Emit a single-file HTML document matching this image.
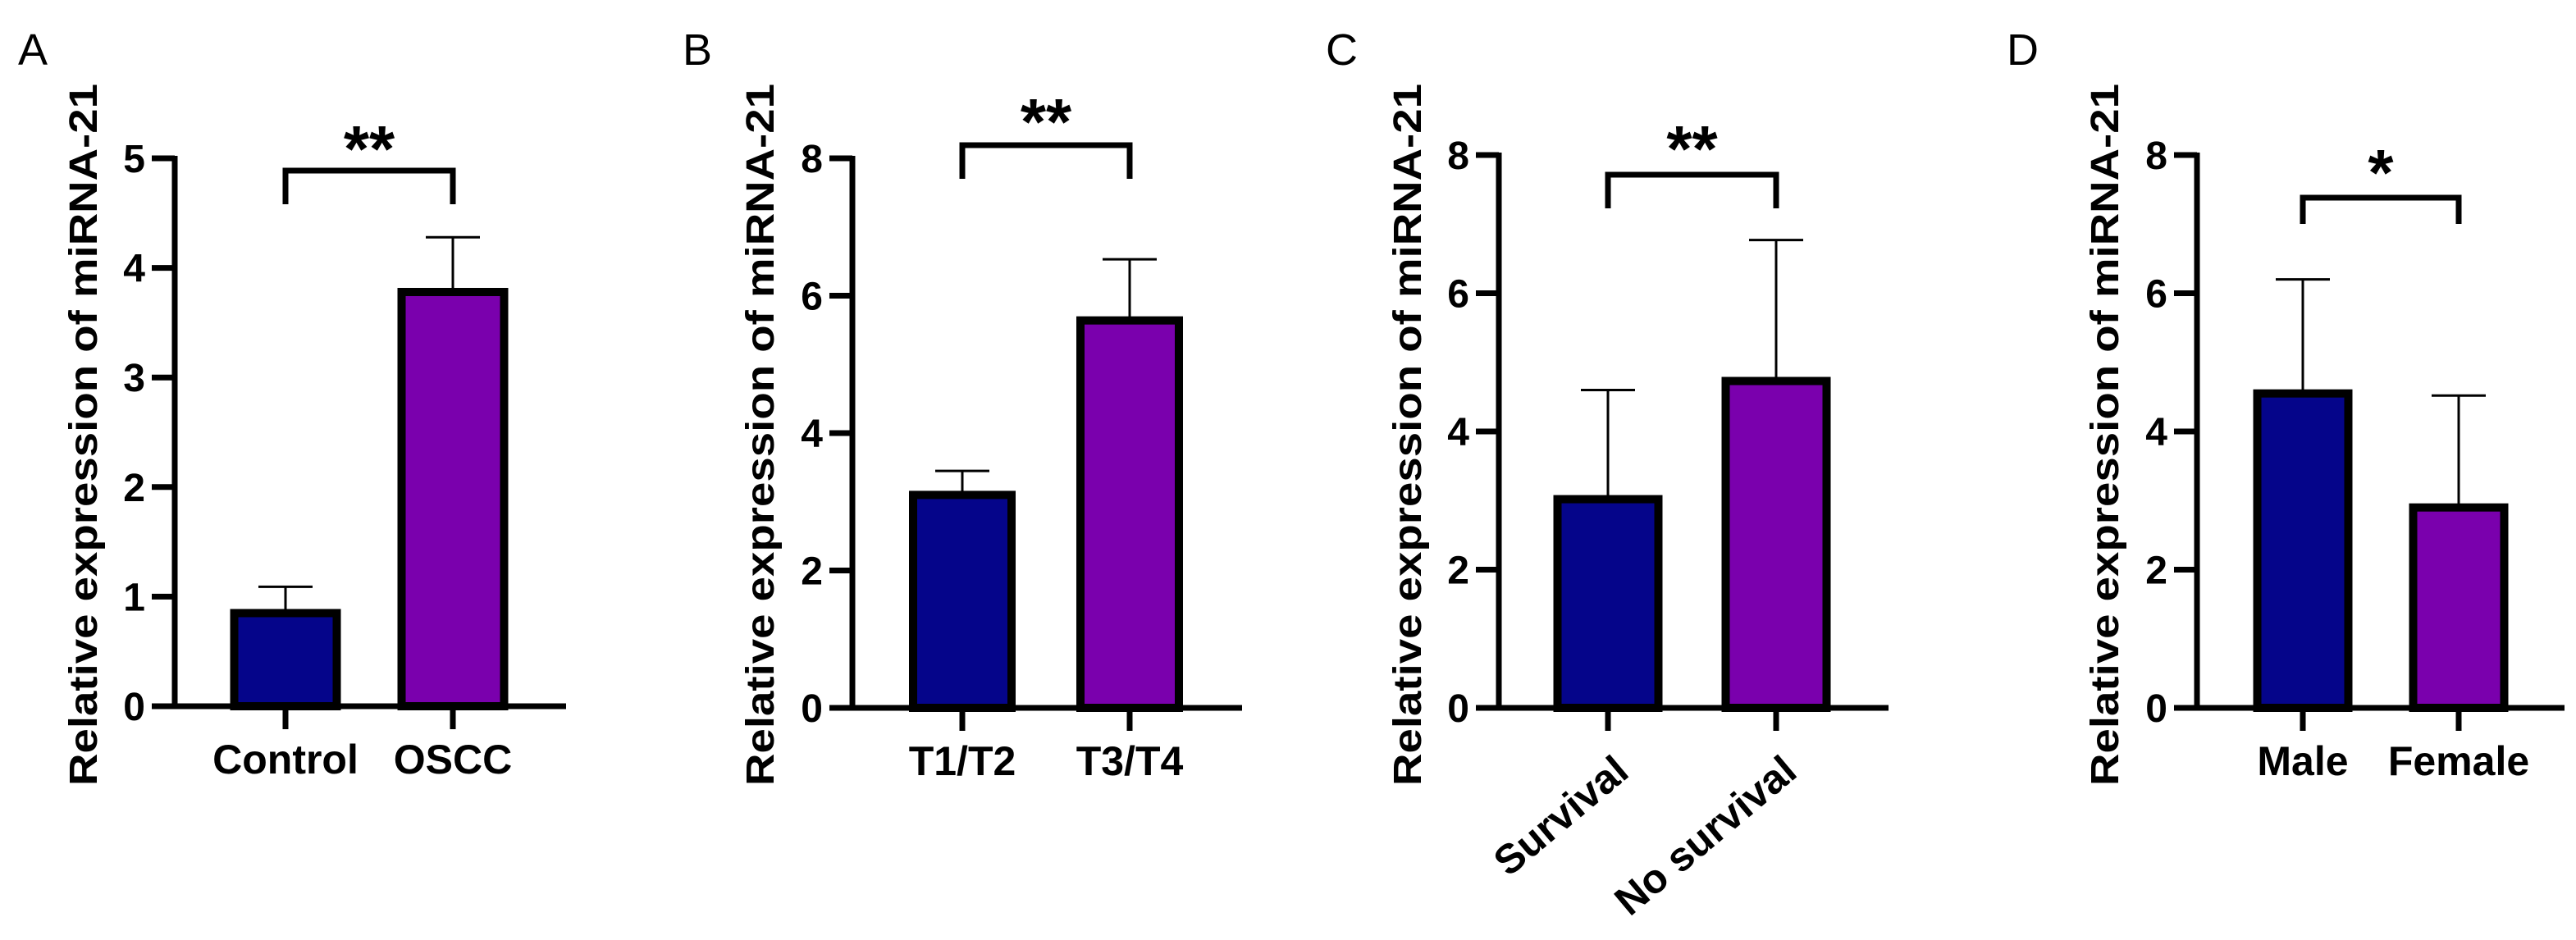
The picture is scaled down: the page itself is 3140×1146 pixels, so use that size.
<!DOCTYPE html>
<html><head><meta charset="utf-8"><style>
html,body{margin:0;padding:0;background:#fff;}
svg{display:block;font-family:"Liberation Sans",Arial,sans-serif;}
</style></head><body>
<svg id="fig" width="3140" height="1146" viewBox="0 0 3140 1146" xmlns="http://www.w3.org/2000/svg"></svg>
<script>
const panelLetters = ["A","B","C","D"];
const catsA = ["Control","OSCC"];
const catsB = ["T1/T2","T3/T4"];
const catsC = ["Survival","No survival"];
const catsD = ["Male","Female"];
const meansA = [0.85, 3.78];
const meansB = [3.10, 5.64];
const meansC = [3.02, 4.73];
const meansD = [4.55, 2.90];
const errA = [1.09, 4.28];
const errB = [3.45, 6.53];
const errC = [4.60, 6.77];
const errD = [6.20, 4.52];
const ticksA = [0,1,2,3,4,5];
const ticksB = [0,2,4,6,8];
const ticksC = [0,2,4,6,8];
const ticksD = [0,2,4,6,8];
const sigLabels = ["**","**","**","*"];

const NS = "http://www.w3.org/2000/svg";
const svg = document.getElementById("fig");
function el(tag, attrs, parent){const e=document.createElementNS(NS,tag);for(const k in attrs)e.setAttribute(k,attrs[k]);(parent||svg).appendChild(e);return e;}

const layouts = [
 {ax:213, y0:861, yTop:193, ymax:5, xEnd:690, c:[348,552], bw:135, br:208, brEnd:249, starC:168, titleX:118, letterX:22, ticks:ticksA, cats:catsA, means:meansA, errs:errA, rot:false},
 {ax:1039, y0:863, yTop:193, ymax:8, xEnd:1514, c:[1173,1377], bw:130, br:177, brEnd:218, starC:135, titleX:943, letterX:832, ticks:ticksB, cats:catsB, means:meansB, errs:errB, rot:false},
 {ax:1827, y0:863, yTop:189, ymax:8, xEnd:2302, c:[1960,2165], bw:133, br:213, brEnd:254, starC:168, titleX:1732, letterX:1616, ticks:ticksC, cats:catsC, means:meansC, errs:errC, rot:true},
 {ax:2678, y0:863, yTop:189, ymax:8, xEnd:3126, c:[2807,2997], bw:121, br:241, brEnd:273, starC:197, titleX:2582, letterX:2446, ticks:ticksD, cats:catsD, means:meansD, errs:errD, rot:false}
];
const fills = ["#05058a","#7a00ad"];

layouts.forEach((L,i)=>{
  const g = el("g",{});
  
  
  const y = v => L.y0 - v/L.ymax*(L.y0-L.yTop);
  const letter = el("text",{x:L.letterX,y:79,"font-size":54,fill:"#000"},g);
  letter.textContent = panelLetters[i];
  
  
  const t = el("text",{x:0,y:0,"font-size":48,"font-weight":"bold","text-anchor":"middle",textLength:856,lengthAdjust:"spacingAndGlyphs",transform:`translate(${L.titleX},530) rotate(-90)`,fill:"#000"},g);
  t.textContent = "Relative expression of miRNA-21";
  
  
  L.means.forEach((m,j)=>{
    const cx=L.c[j];
    const eb = el("path",{d:`M${cx},${y(m)} V${y(L.errs[j])} M${cx-33},${y(L.errs[j])} H${cx+33}`,stroke:"#000","stroke-width":3,fill:"none"},g);
    
    
    const r = el("rect",{x:cx-L.bw/2+5,y:y(m),width:L.bw-10,height:L.y0-y(m),fill:fills[j],stroke:"#000","stroke-width":10},g);
    
    
  });
  const ya = el("line",{x1:L.ax,y1:L.yTop-3,x2:L.ax,y2:L.y0+3,stroke:"#000","stroke-width":7},g);
  
  
  const xa = el("line",{x1:L.ax-28,y1:L.y0,x2:L.xEnd,y2:L.y0,stroke:"#000","stroke-width":7},g);
  
  
  L.ticks.forEach(v=>{
    el("line",{x1:L.ax-28,y1:y(v),x2:L.ax,y2:y(v),stroke:"#000","stroke-width":7},g);
    const tl = el("text",{x:L.ax-36,y:y(v)+17,"font-size":48,"font-weight":"bold","text-anchor":"end",fill:"#000"},g);
    tl.textContent = v;
    
    
  });
  L.cats.forEach((c,j)=>{
    const cx=L.c[j];
    el("line",{x1:cx,y1:L.y0,x2:cx,y2:L.y0+28,stroke:"#000","stroke-width":7},g);
    let lab;
    if(L.rot){
      lab = el("text",{x:0,y:0,"font-size":50,"font-weight":"bold","text-anchor":"end",transform:`translate(${cx+28},${L.y0+82}) rotate(-40)`,fill:"#000"},g);
    } else {
      lab = el("text",{x:cx,y:L.y0+82,"font-size":50,"font-weight":"bold","text-anchor":"middle",fill:"#000"},g);
    }
    lab.textContent = c;
    
    
  });
  const b = el("path",{d:`M${L.c[0]},${L.brEnd} V${L.br} H${L.c[1]} V${L.brEnd}`,stroke:"#000","stroke-width":7,fill:"none"},g);
  
  
  const s = el("text",{x:(L.c[0]+L.c[1])/2,y:L.starC+41,"font-size":80,"font-weight":"bold","text-anchor":"middle",fill:"#000"},g);
  s.textContent = sigLabels[i];
  
  
});
</script>
</body></html>
